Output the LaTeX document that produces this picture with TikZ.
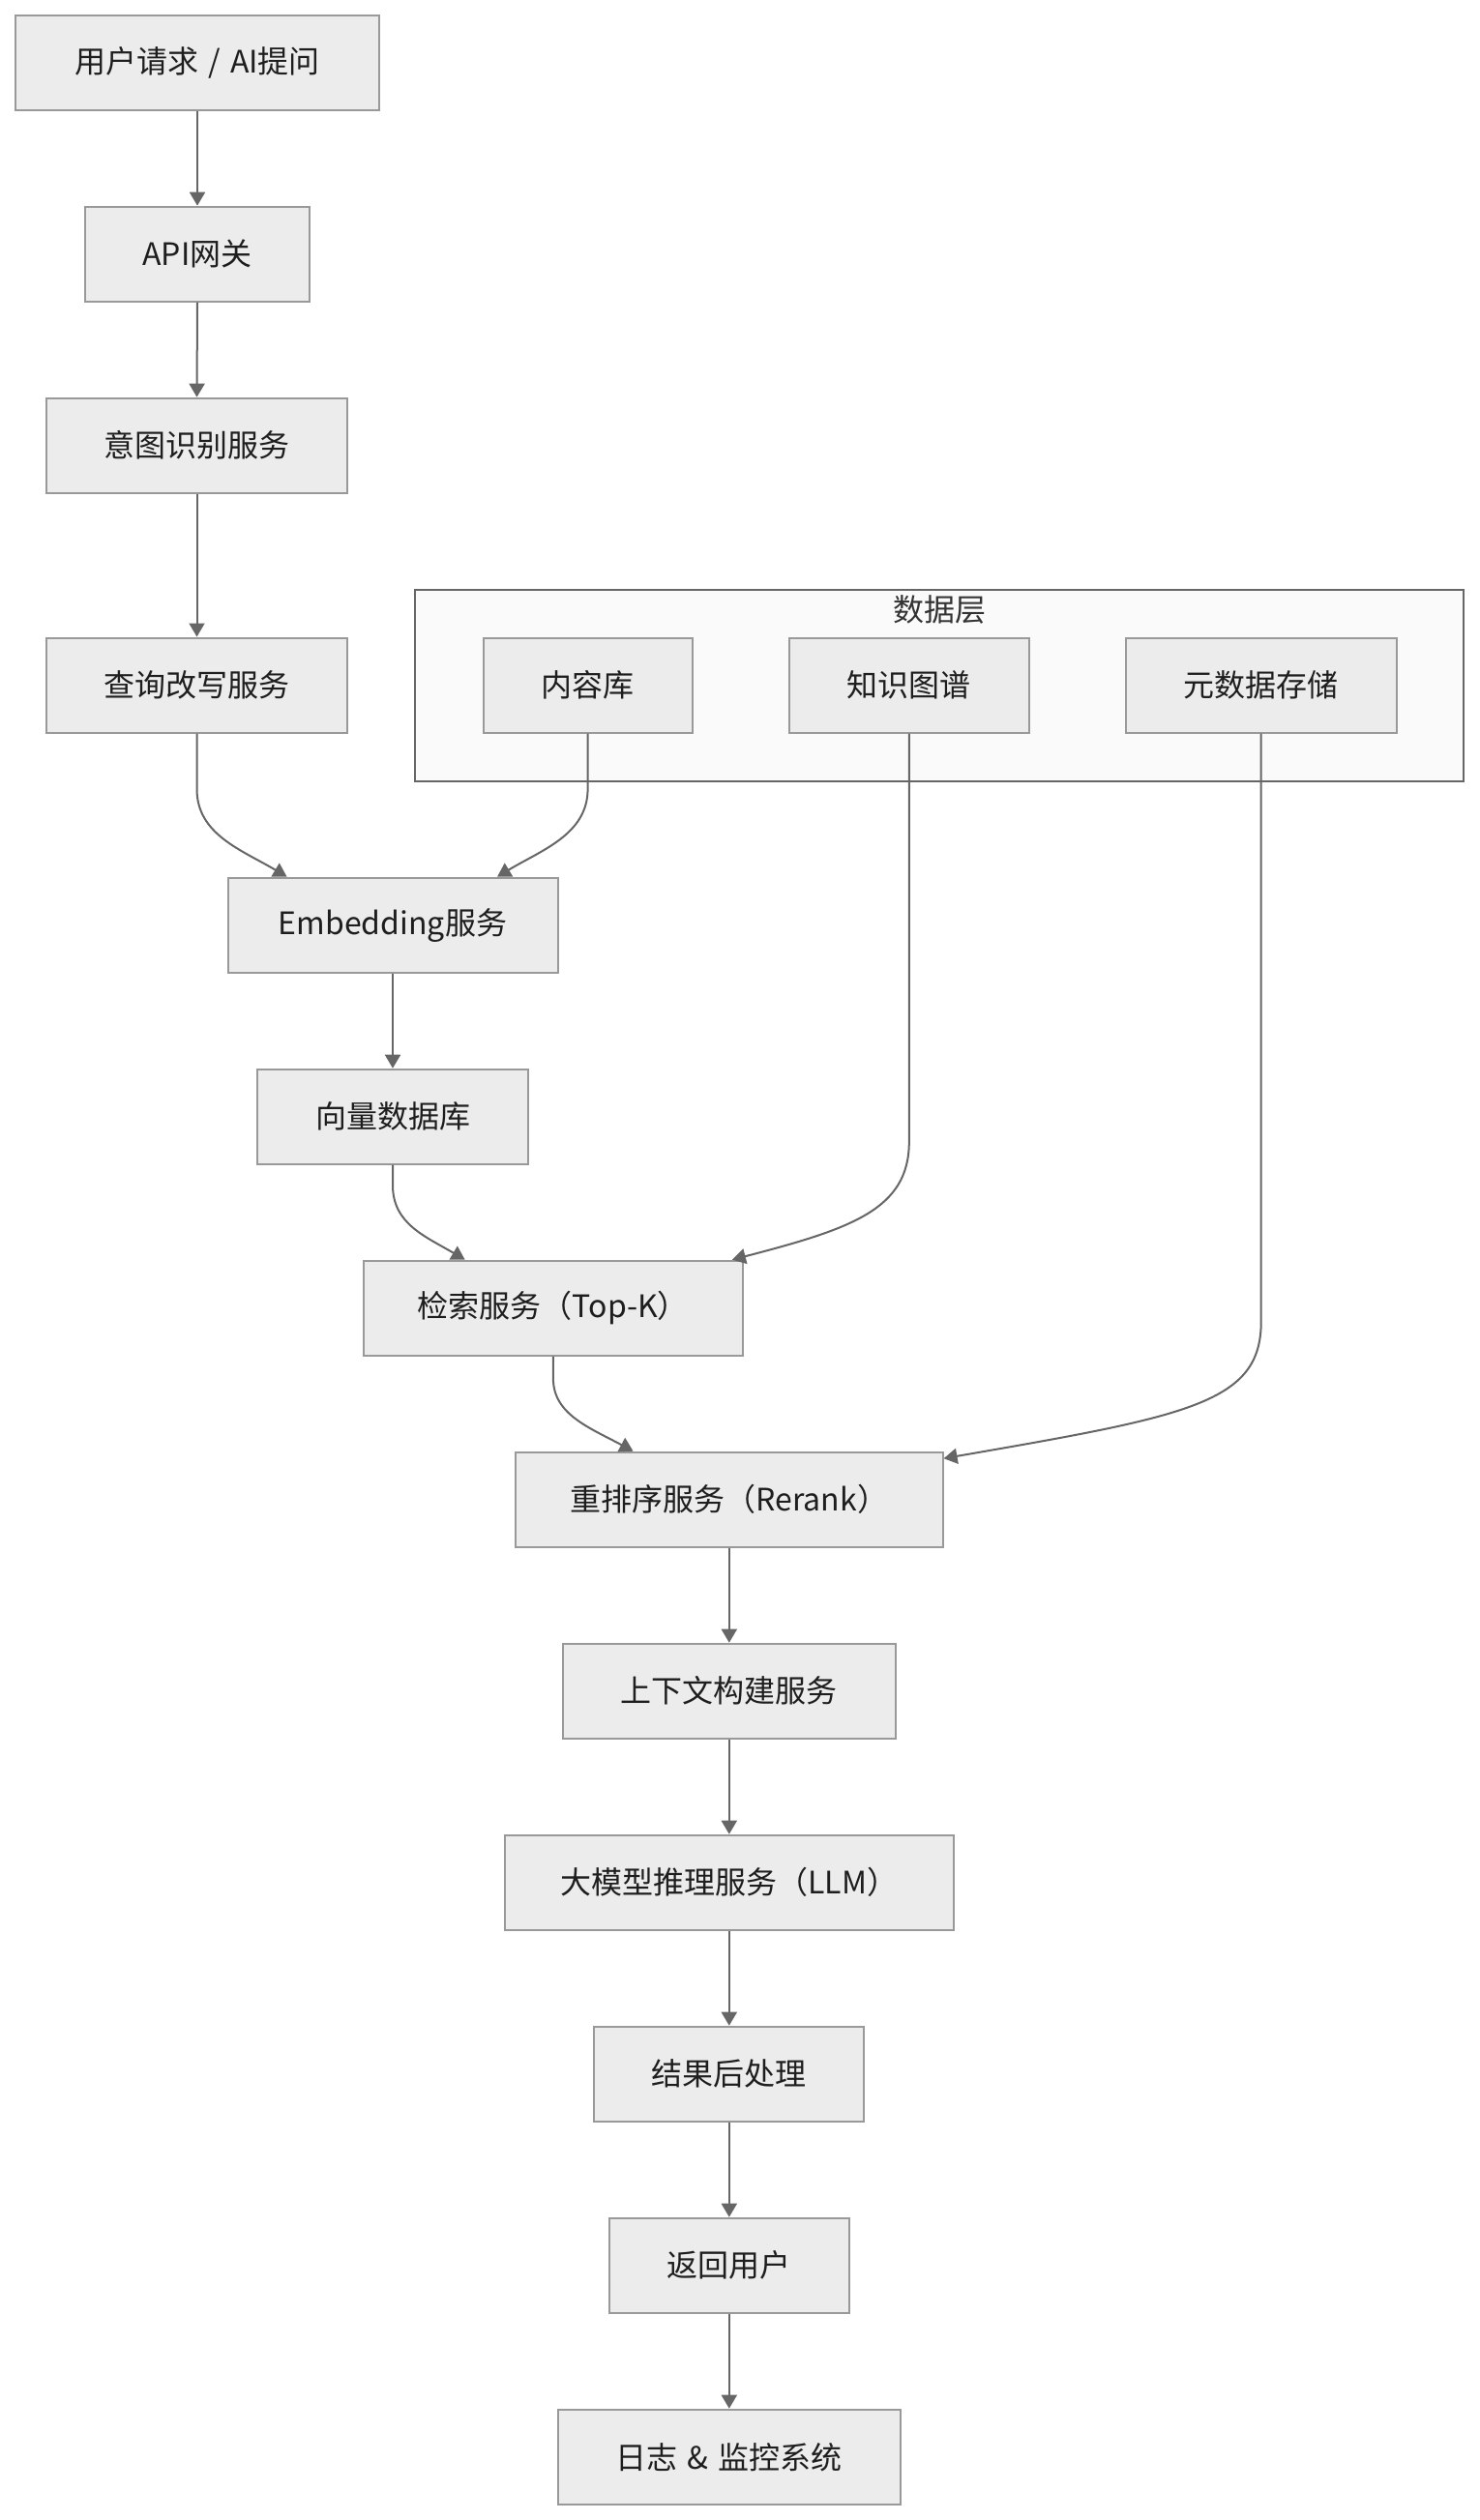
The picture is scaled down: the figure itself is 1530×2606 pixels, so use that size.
\documentclass[tikz,border=0pt]{standalone}
\usepackage{fontspec}
\setmainfont{Noto Sans CJK SC}
\usetikzlibrary{arrows.meta,calc}
\definecolor{nodefill}{HTML}{ECECEC}
\definecolor{nodeline}{HTML}{999999}
\definecolor{edgecol}{HTML}{666666}
\definecolor{clusterfill}{HTML}{FAFAFA}
\definecolor{clusterline}{HTML}{666666}
\definecolor{txt}{HTML}{1E1E1E}
\definecolor{titletxt}{HTML}{333333}
\newcommand{\wsp}{\hspace{0.32em}}
\begin{document}
\begin{tikzpicture}[x=0.5pt,y=-0.5pt,
  box/.style={draw=nodeline, fill=nodefill, line width=1pt, minimum height=49pt,
    inner sep=0pt, font=\fontsize{16}{19}\selectfont, text=txt},
  cluster/.style={draw=clusterline, fill=clusterfill, line width=1pt, inner sep=0pt},
  flow/.style={draw=edgecol, line width=1pt, -{Triangle[length=7pt,width=8pt]}},
]
\fill[white] (0,0) rectangle (1530,2606);
\useasboundingbox (0,0) rectangle (1530,2606);

% cluster
\node[cluster, minimum width=542pt, minimum height=99pt] (dl) at (971,708.5) {};
\node[font=\fontsize{16}{19}\selectfont, text=titletxt, inner sep=0pt] (dltitle) at (971,630) {数据层};

% nodes
\node[box, minimum width=188.3pt] (n1) at (204,64.7) {用户请求\wsp/\wsp AI提问};
\node[box, minimum width=116.2pt] (n2) at (204,262.7) {API网关};
\node[box, minimum width=155.3pt] (n3) at (203.5,460.7) {意图识别服务};
\node[box, minimum width=155.3pt] (n4) at (203.5,708.5) {查询改写服务};
\node[box, minimum width=108pt] (c1) at (607.6,708.5) {内容库};
\node[box, minimum width=124pt] (c2) at (939.8,708.5) {知识图谱};
\node[box, minimum width=139.8pt] (c3) at (1303.7,708.5) {元数据存储};
\node[box, minimum width=170.5pt] (emb) at (406,956.7) {Embedding服务};
\node[box, minimum width=140.4pt] (vec) at (406,1154.7) {向量数据库};
\node[box, minimum width=195.9pt] (ret) at (571.9,1352.7) {检索服务（Top-K）};
\node[box, minimum width=220.8pt] (rr) at (753.8,1550.7) {重排序服务（Rerank）};
\node[box, minimum width=172pt] (ctx) at (753.8,1748.7) {上下文构建服务};
\node[box, minimum width=231.8pt] (llm) at (753.8,1946.7) {大模型推理服务（LLM）};
\node[box, minimum width=139.5pt] (post) at (753.8,2144.7) {结果后处理};
\node[box, minimum width=123.8pt] (back) at (753.8,2342.7) {返回用户};
\node[box, minimum width=177.2pt] (log) at (753.8,2540.7) {日志\wsp\&\wsp 监控系统};

% straight edges
\draw[flow] (n1.south) -- (n2.north);
\draw[flow] (n2.south) -- (n3.north);
\draw[flow] (n3.south) -- (n4.north);
\draw[flow] (emb.south) -- (vec.north);
\draw[flow] (rr.south) -- (ctx.north);
\draw[flow] (ctx.south) -- (llm.north);
\draw[flow] (llm.south) -- (post.north);
\draw[flow] (post.south) -- (back.north);
\draw[flow] (back.south) -- (log.north);

% curved edges
\draw[flow] (n4.south) -- ++(0,57.5) .. controls +(0,47) and +(-46.6,-27.7) .. ($(emb.north)+(-109.4,0)$);
\draw[flow] (c1.south) -- ++(0,57.3) .. controls +(0,47) and +(46,-27.7) .. ($(emb.north)+(108,0)$);
\draw[flow] (vec.south) -- ++(0,21) .. controls +(0,40) and +(-40.7,-24) .. ($(ret.north)+(-91.2,0)$);
\draw[flow] (ret.south) -- ++(0,23) .. controls +(0,37) and +(-44.6,-24) .. ($(rr.north)+(-99.2,0)$);
\draw[flow] (c2.south) -- ++(0,422.3) .. controls +(0,70) and +(123,-32) .. ($(ret.north)+(185,0)$);
\draw[flow] (c3.south) -- ++(0,608.3) .. controls +(0,84) and +(254,-44) .. ($(rr.north east)+(0,7.5)$);
\end{tikzpicture}
\end{document}
